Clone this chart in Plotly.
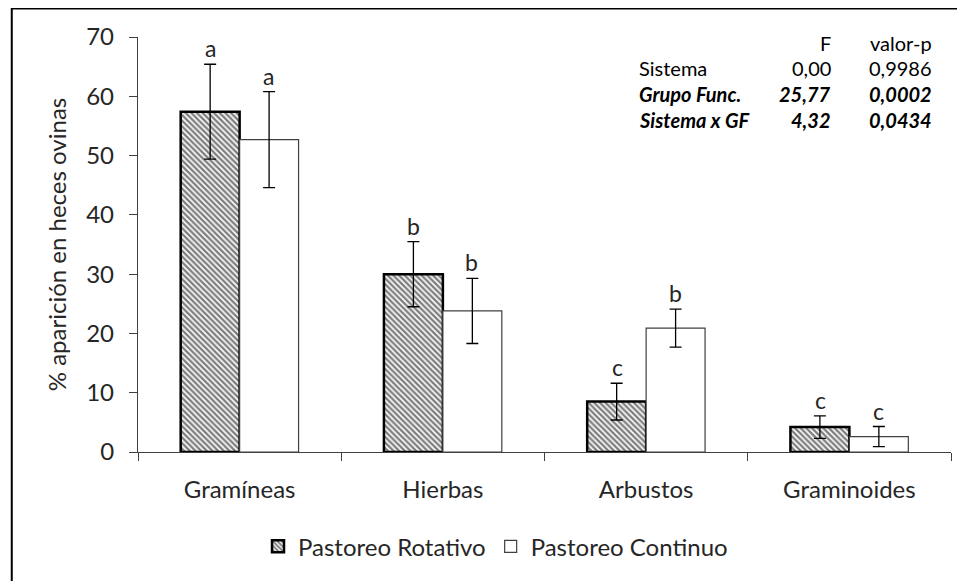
import plotly.graph_objects as go

# Data
grupos = ["Gramíneas", "Hierbas", "Arbustos", "Graminoides"]
rotativo = [57.4, 30.0, 8.5, 4.2]
rotativo_err = [8.0, 5.5, 3.1, 1.9]
continuo = [52.7, 23.8, 20.9, 2.6]
continuo_err = [8.1, 5.5, 3.2, 1.7]
letras_rot = ["a", "b", "c", "c"]
letras_cont = ["a", "b", "b", "c"]

# ANOVA table shown in the top right corner
fuentes = ["Sistema", "Grupo Func.", "Sistema x GF"]
valores_f = ["0,00", "25,77", "4,32"]
valores_p = ["0,9986", "0,0002", "0,0434"]
negrita = [False, True, True]

FONT = "Lato"
TXT = "#262626"
AXIS = "#404040"

fig = go.Figure()

fig.add_trace(go.Bar(
    x=grupos, y=rotativo, name="Pastoreo Rotativo",
    width=0.29, offset=-0.29,
    marker=dict(color="white",
                pattern=dict(shape="\\", fgcolor="black", bgcolor="white", size=4, solidity=0.6),
                line=dict(color="black", width=2.5)),
    error_y=dict(type="data", array=rotativo_err, color="black", thickness=1.3, width=6),
))
fig.add_trace(go.Bar(
    x=grupos, y=continuo, name="Pastoreo Continuo",
    width=0.29, offset=0,
    marker=dict(color="white", line=dict(color=AXIS, width=1.2)),
    error_y=dict(type="data", array=continuo_err, color="black", thickness=1.3, width=6),
))

# significance letters above the error bars
for g, v, e, l in zip(grupos, rotativo, rotativo_err, letras_rot):
    fig.add_annotation(x=g, y=v + e, text=l, showarrow=False, xshift=-29, yanchor="bottom",
                       font=dict(family=FONT, size=23, color=TXT))
for g, v, e, l in zip(grupos, continuo, continuo_err, letras_cont):
    fig.add_annotation(x=g, y=v + e, text=l, showarrow=False, xshift=29, yanchor="bottom",
                       font=dict(family=FONT, size=23, color=TXT))

# screen pixel -> paper coordinates (plot area spans x 138..943, y 37..453 on screen)
def px_x(px):
    return (px - 138) / 805

def px_y(py):
    return (453 - py) / 416

tfont = dict(family=FONT, size=20, color="black")
fig.add_annotation(x=px_x(826), y=px_y(43), xref="paper", yref="paper", text="F",
                   showarrow=False, xanchor="right", yanchor="middle", font=tfont)
fig.add_annotation(x=px_x(926), y=px_y(43), xref="paper", yref="paper", text="valor-p",
                   showarrow=False, xanchor="right", yanchor="middle", font=tfont)
for i, (src, f, p, b) in enumerate(zip(fuentes, valores_f, valores_p, negrita)):
    yy = px_y(68 + i * 26)
    wrap = (lambda s: f"<b><i>{s}</i></b>") if b else (lambda s: s)
    fig.add_annotation(x=px_x(632), y=yy, xref="paper", yref="paper", text=wrap(src),
                       showarrow=False, xanchor="left", yanchor="middle", font=tfont)
    fig.add_annotation(x=px_x(826), y=yy, xref="paper", yref="paper", text=wrap(f),
                       showarrow=False, xanchor="right", yanchor="middle", font=tfont)
    fig.add_annotation(x=px_x(926), y=yy, xref="paper", yref="paper", text=wrap(p),
                       showarrow=False, xanchor="right", yanchor="middle", font=tfont)

# outer frame (only left and top edges are visible in the reference)
fig.add_shape(type="rect", xref="paper", yref="paper",
              x0=px_x(13), y0=px_y(620), x1=px_x(1000), y1=px_y(8.5),
              line=dict(color="black", width=2), layer="below")

# page body has an 8px margin, so the figure is 8px smaller than the window
fig.update_layout(
    width=957, height=573,
    margin=dict(l=130, r=14, t=29, b=120),
    paper_bgcolor="white", plot_bgcolor="white",
    barmode="overlay",
    font=dict(family=FONT, size=24, color=TXT),
    showlegend=True,
    legend=dict(orientation="h", x=px_x(492), xanchor="center", y=px_y(548), yanchor="middle",
                font=dict(family=FONT, size=24, color=TXT), itemwidth=30, traceorder="normal"),
    xaxis=dict(showline=True, linecolor=AXIS, linewidth=1.3, ticks="outside", tickson="boundaries",
               ticklen=8, tickcolor=AXIS, tickfont=dict(size=24), showgrid=False,
               ticklabelstandoff=16),
    yaxis=dict(range=[0, 70], dtick=10, showline=True, linecolor=AXIS, linewidth=1.3,
               ticks="outside", ticklen=8, tickcolor=AXIS, showgrid=False, zeroline=False,
               tickfont=dict(size=24), ticklabelstandoff=10,
               title=dict(text="% aparición en heces ovinas", font=dict(size=24), standoff=12)),
)

fig.write_html("out.html")
